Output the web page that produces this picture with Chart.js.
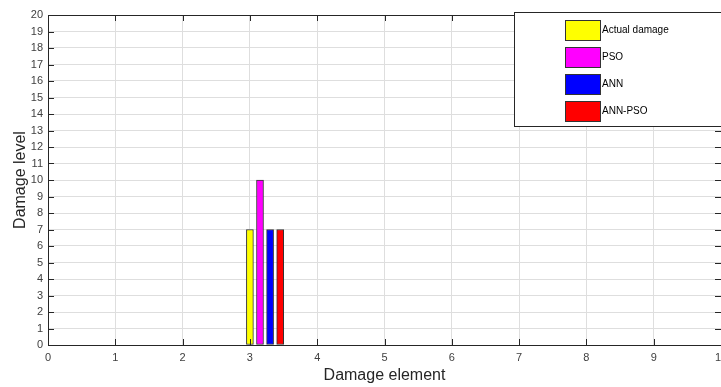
<!DOCTYPE html>
<html>
<head>
<meta charset="utf-8">
<script src="https://cdn.jsdelivr.net/npm/chart.js@4.4.1/dist/chart.umd.min.js"></script>
<style>
  html, body { margin: 0; padding: 0; background: #fff; overflow: hidden; }
  #wrap { width: 740px; height: 387px; }
</style>
</head>
<body>
<div id="wrap"><canvas id="damageChart" width="740" height="387"></canvas></div>
<script>
// Chart data
const seriesNames = ['Actual damage', 'PSO', 'ANN', 'ANN-PSO'];
const seriesColors = ['#ffff00', '#ff00ff', '#0000ff', '#ff0000'];
const barPositions = [3, 3.15, 3.3, 3.45];   // damage element (bar x)
const damageLevels = [7, 10, 7, 7];          // damage level per method

const xTicks = [0, 1, 2, 3, 4, 5, 6, 7, 8, 9, 10];
const yTicks = [0, 1, 2, 3, 4, 5, 6, 7, 8, 9, 10, 11, 12, 13, 14, 15, 16, 17, 18, 19, 20];

const fontFamily = '"Liberation Sans", Arial, Helvetica, sans-serif';

// inward tick marks on all four sides, like a matlab box axis
const boxTicks = {
    id: 'boxTicks',
    afterDatasetsDraw(chart) {
        const { ctx, chartArea: a, scales: { x, y } } = chart;
        ctx.save();
        ctx.strokeStyle = '#262626';
        ctx.lineWidth = 1;
        ctx.beginPath();
        xTicks.forEach(v => {
            const px = Math.round(x.getPixelForValue(v)) + 0.5;
            ctx.moveTo(px, a.bottom); ctx.lineTo(px, a.bottom - 6);
            ctx.moveTo(px, a.top); ctx.lineTo(px, a.top + 6);
        });
        yTicks.forEach(v => {
            const py = Math.round(y.getPixelForValue(v)) + 0.5;
            ctx.moveTo(a.left, py); ctx.lineTo(a.left + 6, py);
            ctx.moveTo(a.right, py); ctx.lineTo(a.right - 6, py);
        });
        ctx.stroke();
        // box
        ctx.strokeRect(Math.round(a.left) + 0.5, Math.round(a.top) + 0.5,
            Math.round(a.right - a.left), Math.round(a.bottom - a.top));
        ctx.restore();
    }
};

// legend box in the top right corner
const boxLegend = {
    id: 'boxLegend',
    afterDraw(chart) {
        const { ctx } = chart;
        const left = 514, top = 12, w = 240, h = 114;
        ctx.save();
        ctx.fillStyle = '#fff';
        ctx.fillRect(left, top, w, h);
        ctx.strokeStyle = '#262626';
        ctx.lineWidth = 1;
        ctx.strokeRect(left + 0.5, top + 0.5, w, h);
        ctx.font = '10px ' + fontFamily;
        ctx.textBaseline = 'middle';
        chart.data.datasets.forEach((ds, i) => {
            const sy = 20 + i * 27;
            ctx.fillStyle = ds.backgroundColor;
            ctx.fillRect(565, sy, 35, 20);
            ctx.strokeStyle = '#333';
            ctx.strokeRect(565.5, sy + 0.5, 35, 20);
            ctx.fillStyle = '#000';
            ctx.fillText(ds.label, 602, sy + 10);
        });
        ctx.restore();
    }
};

const datasets = seriesNames.map((name, i) => ({
    label: name,
    data: [{ x: barPositions[i], y: damageLevels[i] }],
    backgroundColor: seriesColors[i],
    borderColor: '#333333',
    borderWidth: 1,
    borderSkipped: false,
    barThickness: 7,
    grouped: false
}));

new Chart(document.getElementById('damageChart'), {
    type: 'bar',
    data: { datasets: datasets },
    options: {
        responsive: false,
        animation: false,
        layout: { padding: { top: 15, right: 19, left: 11, bottom: 0 } },
        plugins: {
            legend: { display: false },
            tooltip: { enabled: false }
        },
        scales: {
            x: {
                type: 'linear',
                min: 0,
                max: 10,
                offset: false,
                afterBuildTicks: s => { s.ticks = xTicks.map(v => ({ value: v })); },
                afterFit: s => { s.height = 42; },
                grid: { offset: false, color: '#dedede', drawTicks: false },
                border: { display: false },
                ticks: { color: '#404040', font: { family: fontFamily, size: 11 }, padding: 6, maxRotation: 0 },
                title: {
                    display: true,
                    text: 'Damage element',
                    color: '#262626',
                    font: { family: fontFamily, size: 16 },
                    padding: { top: 0, bottom: 2 }
                }
            },
            y: {
                min: 0,
                max: 20,
                afterBuildTicks: s => { s.ticks = yTicks.map(v => ({ value: v })); },
                afterFit: s => { s.width = 37; },
                grid: { color: '#dedede', drawTicks: false },
                border: { display: false },
                ticks: { color: '#404040', font: { family: fontFamily, size: 11 }, padding: 5, autoSkip: false },
                title: {
                    display: true,
                    text: 'Damage level',
                    color: '#262626',
                    font: { family: fontFamily, size: 16 },
                    padding: { top: 0, bottom: 0 }
                }
            }
        }
    },
    plugins: [boxTicks, boxLegend]
});
</script>
</body>
</html>
